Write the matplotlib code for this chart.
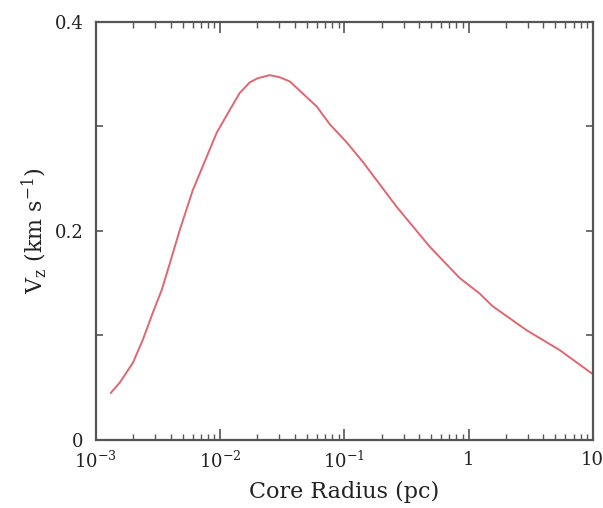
import numpy as np
import matplotlib
matplotlib.use("Agg")
import matplotlib.pyplot as plt
from matplotlib.ticker import FixedLocator, LogLocator, NullFormatter, FixedFormatter

# Data
core_radius_pc = [0.00132, 0.00156, 0.00199, 0.00239, 0.00288, 0.00340, 0.00394,
                  0.00474, 0.00603, 0.00940, 0.0120, 0.0144, 0.0173, 0.0200,
                  0.0251, 0.0302, 0.0364, 0.0600, 0.0764, 0.104, 0.141, 0.264,
                  0.486, 0.847, 1.23, 1.56, 2.93, 5.41, 10.0]
vz_kms = [0.045, 0.055, 0.074, 0.096, 0.122, 0.144, 0.169,
          0.201, 0.239, 0.294, 0.316, 0.332, 0.342, 0.346,
          0.349, 0.347, 0.343, 0.319, 0.302, 0.285, 0.266, 0.223,
          0.185, 0.155, 0.140, 0.128, 0.105, 0.086, 0.063]

x_major = [1e-3, 1e-2, 1e-1, 1, 10]
x_labels = [r"$10^{-3}$", r"$10^{-2}$", r"$10^{-1}$", "1", "10"]
y_major = [0, 0.2, 0.4]
y_labels = ["0", "0.2", "0.4"]
y_minor = [0.1, 0.3]

plt.rcParams['font.family'] = ['DejaVu Serif']
plt.rcParams['mathtext.fontset'] = 'dejavuserif'

fig = plt.figure(figsize=(6.03, 5.08), dpi=100)
ax = fig.add_axes([0.159, 0.134, 0.824, 0.823])

ax.plot(core_radius_pc, vz_kms, color='#e06670', lw=1.4)

ax.set_xscale('log')
ax.set_xlim(1e-3, 10)
ax.set_ylim(0, 0.4)

ax.xaxis.set_major_locator(FixedLocator(x_major))
ax.xaxis.set_major_formatter(FixedFormatter(x_labels))
ax.xaxis.set_minor_locator(LogLocator(base=10, subs=np.arange(2, 10)))
ax.xaxis.set_minor_formatter(NullFormatter())
ax.yaxis.set_major_locator(FixedLocator(y_major))
ax.yaxis.set_major_formatter(FixedFormatter(y_labels))
ax.yaxis.set_minor_locator(FixedLocator(y_minor))

for s in ax.spines.values():
    s.set_color('#555555')
    s.set_linewidth(1.6)

ax.tick_params(which='both', direction='in', top=True, right=True, color='#555555')
ax.tick_params(axis='x', which='major', length=8, width=1.2, labelsize=13, pad=8)
ax.tick_params(axis='x', which='minor', length=4, width=1.0)
ax.tick_params(axis='y', which='both', length=5, width=1.2, labelsize=13, pad=9)

ax.set_xlabel('Core Radius (pc)', fontsize=16, labelpad=6, color='#222222')
ax.set_ylabel(r'V$_{\rm z}$ (km s$^{-1}$)', fontsize=16, labelpad=4, color='#222222')
for lab in ax.get_xticklabels() + ax.get_yticklabels():
    lab.set_color('#222222')
ax.get_yticklabels()[0].set_verticalalignment('center_baseline')

fig.savefig('out.png', dpi=100, facecolor='white')
